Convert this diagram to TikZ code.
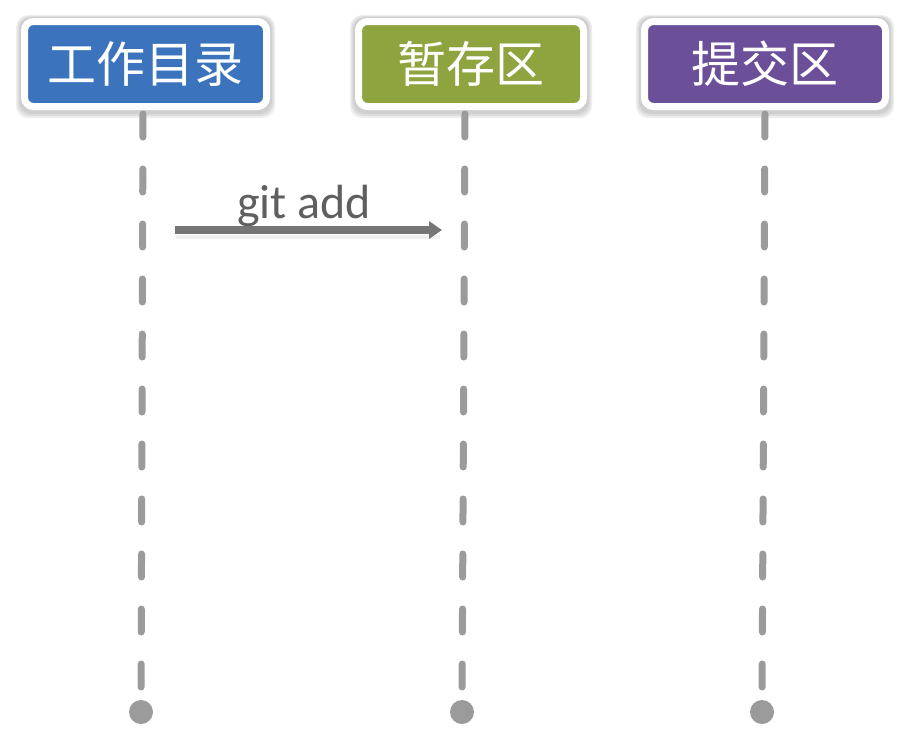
\documentclass[tikz,border=0pt]{standalone}
\usepackage{fontspec}
\setmainfont{Carlito}
\newfontfamily\cjk{Noto Sans CJK SC}
\usetikzlibrary{arrows.meta}
\pgfdeclarelayer{paper}
\pgfdeclarelayer{shade}
\pgfsetlayers{paper,shade,main}
\definecolor{boxblue}{RGB}{59,116,189}
\definecolor{boxgreen}{RGB}{141,164,63}
\definecolor{boxpurple}{RGB}{108,79,153}
\definecolor{lifegray}{RGB}{155,155,155}
\definecolor{arrowgray}{RGB}{118,118,118}
\definecolor{labelgray}{RGB}{95,95,95}
\tikzset{
  stagebox/.style={draw=white, line width=7pt, rounded corners=9pt,
    minimum height=85pt, inner sep=0pt, text=white,
    font=\cjk\fontsize{49}{52}\selectfont},
  boxshadow/.style={fill=black, opacity=0.065, rounded corners=12pt},
  lifeline/.style={draw=lifegray, line width=7pt, line cap=round,
    dash pattern=on 23pt off 32pt},
  enddot/.style={circle, fill=lifegray, minimum size=24pt, inner sep=0pt},
  cmdarrow/.style={draw=arrowgray, line width=8pt,
    -{Triangle[length=13pt,width=17pt]}},
  cmdlabel/.style={text=labelgray, font=\fontsize{48}{50}\selectfont, anchor=base, inner sep=0pt}
}
\begin{document}
\begin{tikzpicture}[x=1pt,y=-1pt]
\useasboundingbox (0,0) rectangle (911,748);
\begin{pgfonlayer}{paper}
\fill[white] (0,0) rectangle (911,748);
\end{pgfonlayer}
% boxes
\node[stagebox, fill=boxblue, minimum width=242pt] (wd) at (145.5,64) {工作目录};
\node[stagebox, fill=boxgreen, minimum width=225pt] (st) at (471,64) {暂存区};
\node[stagebox, fill=boxpurple, minimum width=241pt] (cm) at (765,64) {提交区};
\begin{pgfonlayer}{shade}
  \foreach \b in {wd,st,cm}{
    \fill[boxshadow] ([xshift=-5pt,yshift=3pt]\b.north west) rectangle ([xshift=5pt,yshift=-8pt]\b.south east);
    \fill[boxshadow] ([xshift=-3.5pt,yshift=2pt]\b.north west) rectangle ([xshift=3.5pt,yshift=-6pt]\b.south east);
    \fill[boxshadow] ([xshift=-2pt,yshift=1pt]\b.north west) rectangle ([xshift=2pt,yshift=-4pt]\b.south east);
  }
  \fill[black, opacity=0.06] (176,235) rectangle (440,239);
\end{pgfonlayer}
% lifeline tops
\coordinate (t1) at (143,114);
\coordinate (t2) at (465,114);
\coordinate (t3) at (765,114);
% end dots
\node[enddot] (d1) at (141,712) {};
\node[enddot] (d2) at (462,712) {};
\node[enddot] (d3) at (762,712) {};
% lifelines
\draw[lifeline] (t1) -- (d1);
\draw[lifeline] (t2) -- (d2);
\draw[lifeline] (t3) -- (d3);
% git add
\coordinate (a1) at (175,230);
\coordinate (a2) at (442,230);
\draw[cmdarrow] (a1) -- (a2);
\node[cmdlabel] (lbl) at (304,218) {git add};
\end{tikzpicture}
\end{document}
